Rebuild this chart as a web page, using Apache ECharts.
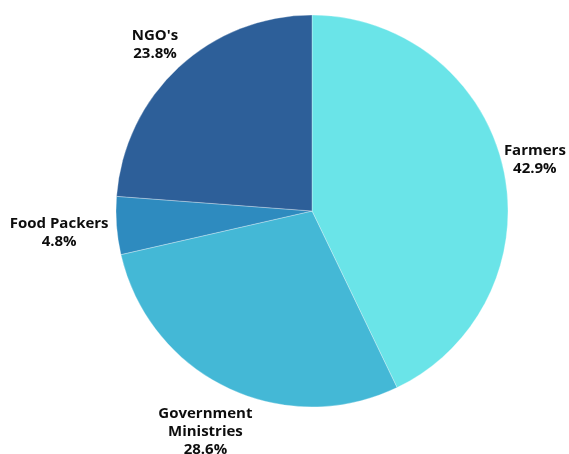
<!DOCTYPE html>
<html>
<head>
<meta charset="utf-8">
<script src="https://cdn.jsdelivr.net/npm/echarts@6/dist/echarts.min.js"></script>
<style>html,body{margin:0;padding:0;background:#fff}#c{width:569px;height:454px}</style>
</head>
<body>
<div id="c"></div>
<script>
const categories = ['Farmers', 'Government Ministries', 'Food Packers', "NGO's"];
const values = [9, 6, 1, 5];
const colors = ['#6AE4E8', '#44B8D6', '#2E8BBF', '#2D5F99'];
// label nudges (layout only)
const labelNudge = [[-12, -6], [34, 37], [5, 6], [10, -17]];

const chart = echarts.init(document.getElementById('c'), null, {renderer: 'canvas'});
chart.setOption({
  animation: false,
  series: [{
    type: 'pie',
    center: [312, 211],
    radius: 196,
    startAngle: 90,
    clockwise: true,
    data: categories.map((n, i) => ({name: n, value: values[i], itemStyle: {color: colors[i]}})),
    itemStyle: {borderColor: 'rgba(255,255,255,0.6)', borderWidth: 0.5},
    label: {
      show: true,
      position: 'outside',
      alignTo: 'none',
      overflow: 'none',
      color: '#0d0d0d',
      fontFamily: 'Open Sans',
      fontWeight: 'bold',
      fontSize: 15,
      lineHeight: 18,
      formatter: p => (p.name.length > 15 ? p.name.replace(' ', '\n') : p.name) + '\n' + p.percent.toFixed(1) + '%'
    },
    labelLine: {show: false, length: 8, length2: 0},
    labelLayout: function (params) {
      const r = params.labelRect;
      const n = labelNudge[params.dataIndex];
      return {x: r.x + r.width / 2 + n[0], y: r.y + r.height / 2 + n[1], align: 'center', verticalAlign: 'middle'};
    }
  }]
});
</script>
</body>
</html>
